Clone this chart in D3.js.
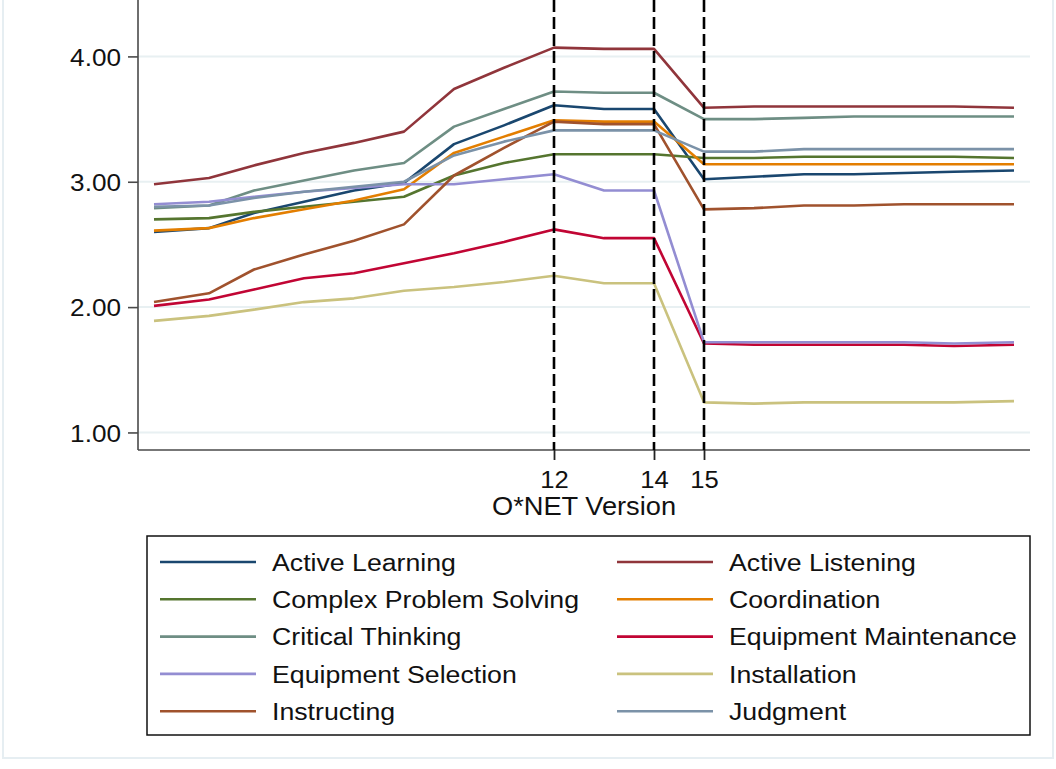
<!DOCTYPE html>
<html>
<head>
<meta charset="utf-8">
<script src="https://cdn.jsdelivr.net/npm/d3@7/dist/d3.min.js"></script>
<style>
  html, body { margin: 0; padding: 0; background: #fff; }
  svg { display: block; font-family: "Liberation Sans", Arial, Helvetica, sans-serif; }
</style>
</head>
<body>
<svg id="chart" width="1056" height="769"></svg>
<script>
// O*NET release numbers on the x axis
const versions = [4, 5.1, 6, 7, 8, 9, 10, 11, 12, 13, 14, 15, 16, 17, 18, 19, 20, 21.2];

// Average importance score per skill, one value per release
const activeLearning        = [2.60, 2.63, 2.75, 2.84, 2.93, 2.99, 3.30, 3.45, 3.61, 3.58, 3.58, 3.02, 3.04, 3.06, 3.06, 3.07, 3.08, 3.09];
const activeListening       = [2.98, 3.03, 3.13, 3.23, 3.31, 3.40, 3.74, 3.91, 4.07, 4.06, 4.06, 3.59, 3.60, 3.60, 3.60, 3.60, 3.60, 3.59];
const complexProblemSolving = [2.70, 2.71, 2.76, 2.80, 2.84, 2.88, 3.05, 3.15, 3.22, 3.22, 3.22, 3.19, 3.19, 3.20, 3.20, 3.20, 3.20, 3.19];
const coordination          = [2.61, 2.63, 2.71, 2.78, 2.85, 2.94, 3.23, 3.36, 3.49, 3.48, 3.48, 3.14, 3.14, 3.14, 3.14, 3.14, 3.14, 3.14];
const criticalThinking      = [2.79, 2.81, 2.93, 3.01, 3.09, 3.15, 3.44, 3.58, 3.72, 3.71, 3.71, 3.50, 3.50, 3.51, 3.52, 3.52, 3.52, 3.52];
const equipmentMaintenance  = [2.01, 2.06, 2.14, 2.23, 2.27, 2.35, 2.43, 2.52, 2.62, 2.55, 2.55, 1.71, 1.70, 1.70, 1.70, 1.70, 1.69, 1.70];
const equipmentSelection    = [2.82, 2.84, 2.88, 2.92, 2.95, 2.98, 2.98, 3.02, 3.06, 2.93, 2.93, 1.72, 1.72, 1.72, 1.72, 1.72, 1.71, 1.72];
const installation          = [1.89, 1.93, 1.98, 2.04, 2.07, 2.13, 2.16, 2.20, 2.25, 2.19, 2.19, 1.24, 1.23, 1.24, 1.24, 1.24, 1.24, 1.25];
const instructing           = [2.04, 2.11, 2.30, 2.42, 2.53, 2.66, 3.05, 3.27, 3.48, 3.46, 3.46, 2.78, 2.79, 2.81, 2.81, 2.82, 2.82, 2.82];
const judgment              = [2.80, 2.81, 2.87, 2.92, 2.96, 3.00, 3.21, 3.32, 3.41, 3.41, 3.41, 3.24, 3.24, 3.26, 3.26, 3.26, 3.26, 3.26];

const skillNames = [
  "Active Learning", "Active Listening", "Complex Problem Solving", "Coordination",
  "Critical Thinking", "Equipment Maintenance", "Equipment Selection", "Installation",
  "Instructing", "Judgment"
];
const skillValues = [
  activeLearning, activeListening, complexProblemSolving, coordination,
  criticalThinking, equipmentMaintenance, equipmentSelection, installation,
  instructing, judgment
];
const skillColors = [
  "#1a476f", "#90353b", "#55752f", "#e37e00", "#6e8e84",
  "#c10534", "#938dd2", "#cac27e", "#a0522d", "#7b92a8"
];

// Reference releases marked with dashed lines and x ticks
const markedVersions = [12, 14, 15];
const yTicks = [1, 2, 3, 4];

const svg = d3.select("#chart");
const W = 1056, H = 769;
const plot = { left: 138, right: 1030, top: 0, bottom: 450 };
const stretch = 1.09;   // wide lettering used throughout the graph

const x = d3.scaleLinear().domain([3.68, 21.52]).range([plot.left, plot.right]);
const y = d3.scaleLinear().domain([0.86, 4.45]).range([plot.bottom, plot.top]);

// faint outer frame of the graph region
svg.append("rect")
  .attr("x", 3).attr("y", -10).attr("width", W - 6).attr("height", H - 1)
  .attr("fill", "none").attr("stroke", "#e6eef2").attr("stroke-width", 2);

// horizontal grid
svg.append("g").selectAll("line").data(yTicks).join("line")
  .attr("x1", plot.left).attr("x2", plot.right)
  .attr("y1", d => y(d)).attr("y2", d => y(d))
  .attr("stroke", "#e8f0f2").attr("stroke-width", 2);

// y axis
const yAxis = svg.append("g")
  .attr("transform", `translate(${plot.left},0)`)
  .call(d3.axisLeft(y).tickValues(yTicks).tickFormat(d3.format(".2f")).tickSize(10).tickPadding(7));
yAxis.select(".domain").attr("stroke", "#4a4a4a").attr("stroke-width", 1.6)
  .attr("d", `M0,${plot.top}V${plot.bottom}`);
yAxis.selectAll(".tick line").attr("stroke", "#4a4a4a").attr("stroke-width", 1.6);
yAxis.selectAll(".tick text")
  .attr("font-size", 24).attr("fill", "#111")
  .attr("dy", "0.36em")
  .attr("x", function () { return +d3.select(this).attr("x") / stretch; })
  .attr("transform", `scale(${stretch},1)`);

// x axis
const xAxis = svg.append("g")
  .attr("transform", `translate(0,${plot.bottom})`)
  .call(d3.axisBottom(x).tickValues(markedVersions).tickFormat(d3.format("d")).tickSize(10).tickPadding(11));
xAxis.select(".domain").attr("stroke", "#4a4a4a").attr("stroke-width", 1.6)
  .attr("d", `M${plot.left},0H${plot.right}`);
xAxis.selectAll(".tick line").attr("stroke", "#222").attr("stroke-width", 1.8);
xAxis.selectAll(".tick text")
  .attr("font-size", 23.5).attr("fill", "#111")
  .attr("transform", `scale(${stretch},1)`);

svg.append("text")
  .attr("transform", `translate(${(plot.left + plot.right) / 2},515) scale(${stretch},1)`)
  .attr("text-anchor", "middle").attr("font-size", 25).attr("fill", "#111")
  .text("O*NET Version");

// series lines
const line = d3.line().x((d, i) => x(versions[i])).y(d => y(d));
svg.append("g").selectAll("path").data(skillValues).join("path")
  .attr("d", d => line(d))
  .attr("fill", "none")
  .attr("stroke", (d, i) => skillColors[i])
  .attr("stroke-width", 2.6)
  .attr("stroke-linejoin", "round");

// dashed reference lines
svg.append("g").selectAll("line").data(markedVersions).join("line")
  .attr("x1", d => x(d)).attr("x2", d => x(d))
  .attr("y1", plot.top).attr("y2", plot.bottom)
  .attr("stroke", "#000").attr("stroke-width", 2.6)
  .attr("stroke-dasharray", "12,5");

// legend
const legend = { left: 147, top: 536, right: 1030, bottom: 735 };
svg.append("rect")
  .attr("x", legend.left).attr("y", legend.top)
  .attr("width", legend.right - legend.left).attr("height", legend.bottom - legend.top)
  .attr("fill", "#fff").attr("stroke", "#111").attr("stroke-width", 1.5);

const colLineX = [160, 617];
const rowY0 = 562, rowStep = 37.3;
const items = svg.append("g").selectAll("g").data(skillNames).join("g")
  .attr("transform", (d, i) => `translate(${colLineX[i % 2]},${rowY0 + Math.floor(i / 2) * rowStep})`);
items.append("line")
  .attr("x1", 0).attr("x2", 96).attr("y1", 0).attr("y2", 0)
  .attr("stroke", (d, i) => skillColors[i]).attr("stroke-width", 2.6);
items.append("text")
  .attr("transform", `translate(112,8.6) scale(${stretch},1)`)
  .attr("font-size", 24.5).attr("fill", "#111")
  .text(d => d);
</script>
</body>
</html>
